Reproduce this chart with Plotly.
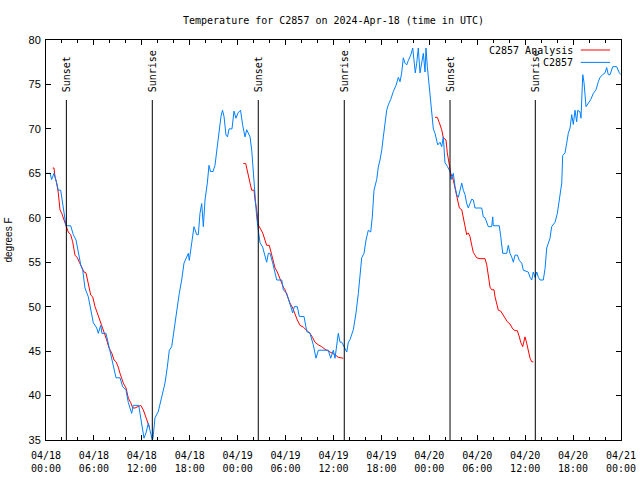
import plotly.graph_objects as go
from datetime import datetime, timedelta

START = datetime(2024, 4, 18)

# Observed temperature (hours since 2024-04-18 00:00 UTC, degrees F)
obs_hours = [
    0.0, 0.5, 0.71, 1.0, 1.25, 1.54, 1.84, 2.04, 2.25, 2.5, 3.09, 3.42, 3.76, 4.04, 4.35, 4.6,
    4.88, 5.3, 5.6, 5.92, 6.35, 6.55, 6.85, 7.01, 7.51, 7.8, 8.1, 8.52, 8.77, 9.27, 9.6, 10.02,
    10.31, 10.73, 10.93, 11.61, 11.98, 12.27, 12.52, 12.81, 13.02, 13.31, 13.4, 13.65, 14.06,
    14.49, 14.9, 15.19, 15.44, 15.74, 16.03, 16.37, 16.69, 16.99, 17.28, 17.82, 17.94, 18.25,
    18.53, 18.87, 19.07, 19.28, 19.5, 19.7, 19.91, 20.2, 20.41, 20.6, 20.91, 21.16, 21.45, 21.7,
    21.91, 22.1, 22.29, 22.54, 22.73, 22.92, 23.29, 23.54, 23.79, 24.04, 24.36, 24.63, 24.92,
    25.13, 25.55, 25.76, 25.96, 26.17, 26.38, 26.58, 26.8, 27.13, 27.42, 27.63, 27.84, 28.05,
    28.39, 28.68, 28.89, 29.52, 29.72, 30.14, 30.55, 30.89, 31.09, 31.47, 31.72, 32.31, 32.65,
    33.06, 33.47, 33.81, 34.1, 35.35, 35.65, 35.98, 36.19, 36.4, 36.6, 36.82, 37.03, 37.32,
    37.66, 37.86, 38.07, 38.48, 38.82, 39.11, 39.32, 39.53, 39.82, 40.07, 40.36, 40.66, 40.86,
    41.07, 41.41, 41.61, 41.82, 42.04, 42.24, 42.45, 42.66, 42.86, 43.16, 43.49, 43.83, 44.12,
    44.33, 44.54, 44.74, 44.95, 45.17, 45.37, 45.67, 45.92, 46.08, 46.24, 46.42, 46.62, 46.83,
    47.05, 47.25, 47.46, 47.58, 47.75, 47.92, 48.09, 48.3, 48.5, 48.71, 48.92, 49.05, 49.34,
    49.55, 49.75, 49.96, 50.25, 50.59, 50.72, 51.0, 51.22, 51.43, 51.63, 51.84, 52.06, 52.26,
    52.47, 52.68, 52.88, 53.09, 53.31, 53.51, 53.72, 54.56, 54.76, 54.97, 55.19, 55.39, 55.81,
    55.94, 56.01, 56.76, 56.94, 57.07, 57.19, 57.69, 57.89, 58.1, 58.31, 58.52, 58.73, 59.02,
    59.27, 59.57, 59.77, 60.39, 60.61, 60.82, 61.02, 61.23, 61.45, 61.65, 61.86, 62.27, 62.49,
    62.7, 62.9, 63.11, 63.32, 63.74, 64.03, 64.28, 64.58, 64.7, 64.99, 65.2, 65.4, 65.62, 65.83,
    66.03, 66.24, 66.45, 66.58, 66.87, 66.99, 67.21, 67.37, 67.62, 67.91, 68.21, 68.54, 68.87,
    69.16, 69.37, 69.71, 70.0, 70.21, 70.41, 70.63, 70.96, 71.46, 71.79, 72.0,
]
obs_temps = [
    65.0, 65.0, 64.3, 65.0, 64.2, 63.1, 63.1, 62.0, 60.9, 59.1, 59.1, 58.1, 57.5, 56.0, 54.7, 54.1,
    52.1, 51.1, 49.6, 48.2, 47.6, 47.0, 47.9, 47.0, 47.0, 45.9, 44.4, 42.9, 42.0, 42.0, 41.0, 40.6,
    39.2, 38.0, 38.9, 38.9, 36.9, 35.2, 35.8, 36.9, 36.1, 35.0, 35.2, 37.5, 38.2,
    39.9, 41.4, 43.2, 45.1, 45.5, 47.4, 50.0, 51.5, 53.0, 54.9, 56.0, 55.2, 57.2,
    59.0, 58.1, 58.1, 60.5, 61.6, 59.0, 62.0, 63.9, 65.9, 65.2, 65.2, 65.9, 68.2, 69.5,
    71.4, 72.1, 71.4, 69.3, 69.1, 70.0, 70.0, 72.0, 71.2, 71.8, 72.1, 70.4, 69.1,
    69.9, 69.1, 67.6, 65.0, 61.6, 60.1, 58.6, 57.2, 56.7, 55.6, 55.0, 56.0, 56.0,
    54.9, 53.8, 53.0, 53.0, 51.9, 51.5, 50.4, 49.3, 50.0, 50.0, 48.9, 48.9, 47.2,
    47.0, 45.7, 44.2, 45.1, 45.1, 44.2, 45.1, 44.2, 45.9, 47.0, 46.0, 46.0, 45.5,
    44.9, 46.0, 46.3, 47.4, 49.3, 51.5, 53.8, 55.5, 56.0, 57.5, 58.6, 58.4, 60.1,
    63.1, 64.3, 65.7, 66.5, 67.6, 69.1, 71.0, 72.1, 72.7, 73.3, 74.2, 74.9, 75.8,
    75.3, 76.3, 78.0, 77.4, 77.2, 77.7, 78.3, 79.1, 78.0, 76.3, 77.4, 79.1, 76.3,
    77.4, 78.5, 76.4, 79.1, 77.0, 75.5, 73.3, 71.4, 70.0, 69.5, 68.6, 68.2, 68.5,
    68.0, 69.1, 66.2, 65.8, 65.2, 64.3, 65.0, 63.5, 62.6, 62.3, 63.1, 63.9, 63.1,
    62.6, 61.6, 61.1, 61.6, 62.1, 62.0, 61.1, 61.1, 60.1, 60.0, 59.4, 59.0, 59.0,
    60.1, 59.1, 59.1, 57.9, 56.7, 56.0, 56.0, 56.9, 56.0, 55.6, 55.0, 55.8, 55.8,
    55.2, 54.9, 54.1, 53.9, 53.3, 53.0, 53.9, 53.3, 53.9, 53.3, 53.0, 53.0, 54.3,
    56.6, 57.2, 57.7, 59.0, 59.5, 60.5, 62.3, 63.9, 67.0, 67.3, 68.4, 69.5, 70.1, 71.6,
    70.5, 72.1, 70.8, 72.1, 71.9, 71.2, 76.1, 75.2, 72.5, 72.9, 73.3, 74.0, 74.4,
    75.3, 75.8, 76.1, 76.3, 76.9, 76.1, 76.1, 77.0, 77.0, 76.3, 76.1,
]

# Analysis temperature (three separate runs; None marks gaps)
ana_hours = [
    0.84, 1.0, 1.13, 1.34, 1.54, 1.75, 1.97, 2.25, 2.5, 2.79, 3.09, 3.34, 3.63, 3.92, 4.17, 4.47,
    4.76, 5.01, 5.3, 5.6, 5.85, 6.14, 6.42, 6.76, 7.1, 7.39, 7.6, 7.89, 8.23, 8.52, 8.77, 9.05,
    9.27, 9.48, 9.68, 10.02, 10.31, 10.61, 10.86, 11.14, 11.43, 11.86, 12.18, 12.52, 12.81, 12.96,
    None,
    24.71, 25.01, 25.13, 25.33, 25.55, 25.76, 26.05, 26.17, 26.38, 26.58, 26.8, 27.13, 27.42,
    27.63, 27.96, 28.26, 28.46, 28.68, 28.96, 29.21, 29.51, 29.72, 29.93, 30.22, 30.55, 30.89,
    31.18, 31.47, 31.81, 32.22, 32.56, 33.06, 33.4, 33.68, 34.1, 34.52, 34.94, 35.35, 35.78,
    36.19, 36.6, 37.03, 37.23,
    None,
    48.71, 49.0, 49.25, 49.55, 49.75, 50.09, 50.25, 50.5, 50.68, 51.0, 51.34, 51.51, 51.76,
    52.06, 52.26, 52.47, 52.68, 52.88, 53.09, 53.31, 53.51, 53.72, 53.93, 54.35, 54.97, 55.19,
    55.39, 55.6, 55.81, 56.1, 56.23, 56.44, 56.64, 56.94, 57.19, 57.48, 57.77, 58.1, 58.44,
    58.73, 59.02, 59.27, 59.44, 59.69, 59.98, 60.19, 60.39, 60.61, 60.82, 61.02,
]
ana_temps = [
    65.6, 65.6, 64.6, 63.9, 62.8, 60.9, 60.5, 59.75, 59.0, 58.4, 58.1, 57.3, 55.8, 55.5, 55.0, 54.5,
    53.9, 53.8, 52.7, 51.3, 51.1, 50.0, 49.3, 48.5, 47.7, 46.8, 46.25, 45.35, 44.8, 44.0, 43.8, 43.2,
    42.5, 42.0, 41.4, 40.85, 39.7, 39.2, 38.6, 38.6, 38.75, 38.9, 38.4, 37.6, 36.9, 36.4,
    None,
    66.1, 66.1, 65.6, 64.6, 63.9, 63.1, 63.1, 62.0, 60.9, 59.2, 58.85, 58.3, 57.5,
    56.9, 56.9, 55.8, 54.9, 54.35, 53.9, 53.3, 52.7, 52.2, 51.9, 51.1, 50.4, 49.85,
    49.1, 48.5, 47.9, 47.7, 47.4, 47.0, 46.5, 46.0, 45.7, 45.5, 45.2, 45.0, 44.8,
    44.6, 44.3, 44.2, 44.2,
    None,
    71.3, 71.3, 70.7, 69.9, 69.0, 68.75, 67.3, 65.7, 65.0, 64.25, 62.8, 62.0, 61.1,
    60.9, 60.0, 59.0, 58.1, 58.3, 57.9, 56.9, 56.1, 55.8, 55.5, 55.4, 55.4, 54.7,
    53.6, 52.2, 51.9, 51.9, 51.1, 50.4, 49.6, 49.5, 49.1, 48.6, 48.3, 48.05, 47.5,
    47.3, 47.3, 46.6, 46.0, 45.5, 46.6, 45.9, 44.9, 44.2, 43.8, 43.8,
]

sunset_hours = [2.55, 26.58, 50.59]
sunrise_hours = [13.31, 37.35, 61.27]

tick_hours = [0, 6, 12, 18, 24, 30, 36, 42, 48, 54, 60, 66, 72]
tick_labels = [
    "04/18<br>00:00", "04/18<br>06:00", "04/18<br>12:00", "04/18<br>18:00",
    "04/19<br>00:00", "04/19<br>06:00", "04/19<br>12:00", "04/19<br>18:00",
    "04/20<br>00:00", "04/20<br>06:00", "04/20<br>12:00", "04/20<br>18:00",
    "04/21<br>00:00",
]

Y_MIN, Y_MAX = 35, 80
MARKER_TOP = 73.25
RED = "#ff0000"
BLUE = "#0080ff"
MONO = "DejaVu Sans Mono"
SANS = "Liberation Sans"


def to_time(h):
    return None if h is None else START + timedelta(hours=h)


fig = go.Figure()
fig.add_trace(go.Scatter(
    x=[to_time(h) for h in ana_hours], y=ana_temps, mode="lines",
    line=dict(color=RED, width=1), connectgaps=False, name="C2857 Analysis",
))
fig.add_trace(go.Scatter(
    x=[to_time(h) for h in obs_hours], y=obs_temps, mode="lines",
    line=dict(color=BLUE, width=1), name="C2857",
))

for label, hours in (("Sunset", sunset_hours), ("Sunrise", sunrise_hours)):
    for h in hours:
        t = to_time(h)
        fig.add_shape(type="line", xref="x", yref="y", x0=t, x1=t, y0=Y_MIN, y1=MARKER_TOP,
                      line=dict(color="black", width=1))
        fig.add_annotation(x=t, y=MARKER_TOP, xref="x", yref="y", text=label, textangle=-90,
                           showarrow=False, xanchor="center", yanchor="bottom", yshift=6,
                           font=dict(family=MONO, size=10, color="black"))

# Manual legend (text left of the sample line, as in the reference)
legend_items = [("C2857 Analysis", RED, 0.975), ("C2857", BLUE, 0.944)]
for text, color, yp in legend_items:
    fig.add_annotation(x=0.92, y=yp, xref="paper", yref="paper", text=text, showarrow=False,
                       xanchor="right", yanchor="middle",
                       font=dict(family=MONO, size=10, color="black"))
    fig.add_shape(type="line", xref="paper", yref="paper", x0=0.930, x1=0.981, y0=yp, y1=yp,
                  line=dict(color=color, width=1))

fig.update_layout(
    width=640, height=480, autosize=False,
    margin=dict(l=46, r=19, t=40, b=40, autoexpand=False),
    paper_bgcolor="white", plot_bgcolor="white",
    showlegend=False,
    title=dict(text="Temperature for C2857 on 2024-Apr-18 (time in UTC)",
               x=0.5, xref="paper", xanchor="center", y=1 - 20 / 480, yanchor="middle",
               font=dict(family=MONO, size=10, color="black")),
)
fig.update_xaxes(
    type="date", range=[to_time(0), to_time(72)], automargin=False,
    tickmode="array", tickvals=[to_time(h) for h in tick_hours], ticktext=tick_labels,
    ticks="inside", ticklen=5, tickcolor="black", showline=True, linecolor="black",
    linewidth=1, mirror="allticks", showgrid=False, zeroline=False,
    ticklabelstandoff=6,
    tickfont=dict(family=MONO, size=10, color="black"),
    minor=dict(ticks="inside", ticklen=3, tickcolor="black", dtick=2 * 3600 * 1000,
               tick0=to_time(0), showgrid=False),
)
fig.update_yaxes(
    range=[Y_MIN, Y_MAX], dtick=5, tick0=35, automargin=False,
    ticks="inside", ticklen=5, tickcolor="black", showline=True, linecolor="black",
    linewidth=1, mirror="allticks", showgrid=False, zeroline=False,
    ticklabelstandoff=2,
    tickfont=dict(family=SANS, size=11, color="black"),
    title=dict(text="degrees F", font=dict(family=SANS, size=10, color="black"), standoff=14),
)

fig.write_html(
    "out.html",
    config={"displayModeBar": False},
    post_script="document.body.style.margin='0';document.body.style.overflow='hidden';",
)
